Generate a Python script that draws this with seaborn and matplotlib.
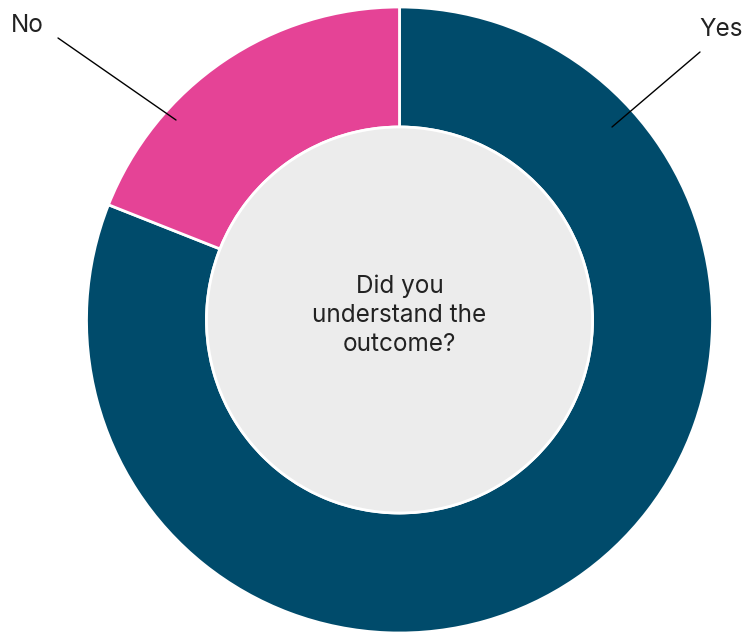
import matplotlib
matplotlib.use("Agg")
import matplotlib.pyplot as plt
import seaborn as sns
from matplotlib.patches import Circle

sns.set_theme(style="white")
plt.rcParams["font.family"] = ["Inter", "DejaVu Sans"]

# Survey responses
categories = ["Yes", "No"]
shares = [81, 19]
colors = ["#004b6b", "#e54396"]
center_title = "Did you\nunderstand the\noutcome?"

W, H = 742, 633
fig = plt.figure(figsize=(W / 100, H / 100), dpi=100)
ax = fig.add_axes([0, 0, 1, 1])

cx, cy = 399.5, 313
r_out, r_in = 313, 193

ax.pie(
    shares,
    colors=colors,
    startangle=90,
    counterclock=False,
    center=(cx, cy),
    radius=r_out,
    wedgeprops=dict(width=r_out - r_in, edgecolor="white", linewidth=2),
    frame=True,
)
ax.set_xlim(0, W)
ax.set_ylim(0, H)
ax.set_aspect("equal")
ax.axis("off")

ax.add_patch(Circle((cx, cy), r_in, facecolor="#ececec", edgecolor="white",
                    linewidth=2, zorder=3))
ax.text(cx, cy + 5, center_title, ha="center", va="center", fontsize=17.5,
        color="#222222", linespacing=1.32, zorder=4)

# Leader lines and labels
ax.plot([612, 700], [506, 581], color="black", lw=1, zorder=5)
ax.text(721, 604, categories[0], ha="center", va="center", fontsize=17.5, color="#222222")
ax.plot([58, 176], [595, 513], color="black", lw=1, zorder=5)
ax.text(27, 607, categories[1], ha="center", va="center", fontsize=17.5, color="#222222")

fig.savefig("out.png", dpi=100, facecolor="white")
